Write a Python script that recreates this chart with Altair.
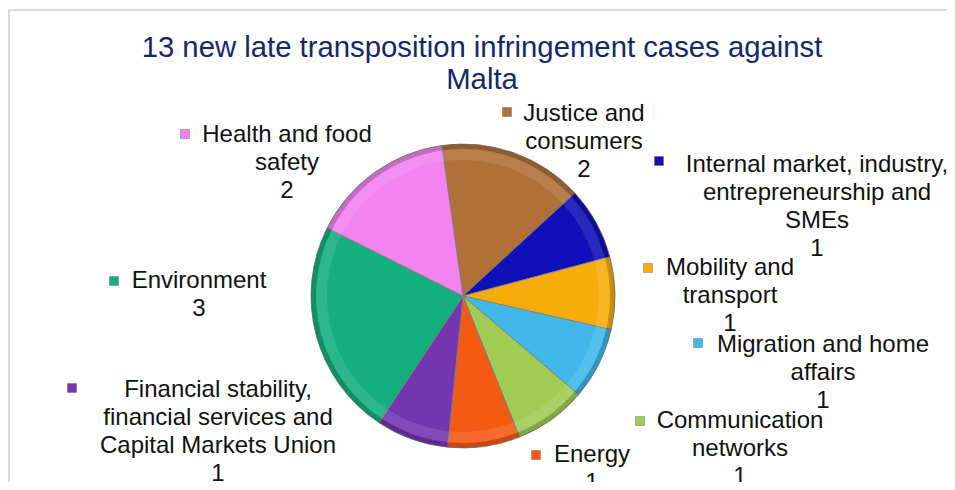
import math
import altair as alt
import pandas as pd

# ---- data ----
categories = [
    "Justice and consumers",
    "Internal market, industry, entrepreneurship and SMEs",
    "Mobility and transport",
    "Migration and home affairs",
    "Communication networks",
    "Energy",
    "Financial stability, financial services and Capital Markets Union",
    "Environment",
    "Health and food safety",
]
cases = [2, 1, 1, 1, 1, 1, 1, 3, 2]
colors = ["#B07038", "#1010B8", "#F7AC0C", "#40B8EA", "#A0CC55",
          "#F55A14", "#7435B0", "#14AF7D", "#F283F0"]
title_lines = ["13 new late transposition infringement cases against", "Malta"]

# ---- label layout (wrapping and placement, chart pixels) ----
wrap = {
    "Justice and consumers": ["Justice and", "consumers"],
    "Internal market, industry, entrepreneurship and SMEs": ["Internal market, industry,", "entrepreneurship and", "SMEs"],
    "Mobility and transport": ["Mobility and", "transport"],
    "Migration and home affairs": ["Migration and home", "affairs"],
    "Communication networks": ["Communication", "networks"],
    "Energy": ["Energy"],
    "Financial stability, financial services and Capital Markets Union": ["Financial stability,", "financial services and", "Capital Markets Union"],
    "Environment": ["Environment"],
    "Health and food safety": ["Health and food", "safety"],
}
# marker x, marker y, text centre x, first line y
place = {
    "Justice and consumers": (499, 104, 576, 106),
    "Internal market, industry, entrepreneurship and SMEs": (651, 153, 809, 157),
    "Mobility and transport": (640, 260, 722, 260),
    "Migration and home affairs": (690, 335, 815, 337),
    "Communication networks": (632, 413, 732, 413),
    "Energy": (528, 447, 584, 447),
    "Financial stability, financial services and Capital Markets Union": (64, 380, 210, 382),
    "Environment": (106, 273, 191, 273),
    "Health and food safety": (177, 126, 279, 127),
}

W, H = 939, 474
CX, CY, R = 455, 288, 152
LINE = 28
start = math.radians(-8)

pie_df = pd.DataFrame({"category": categories, "cases": cases, "idx": list(range(len(categories)))})

mk_rows, tx_rows = [], []
for c, n in zip(categories, cases):
    mx, my, tx, ty = place[c]
    mk_rows.append({"category": c, "px": mx, "py": my})
    for i, line in enumerate(wrap[c] + [str(n)]):
        tx_rows.append({"category": c, "px": tx, "py": ty + i * LINE, "line": line})
mk_df = pd.DataFrame(mk_rows)
tx_df = pd.DataFrame(tx_rows)

color_scale = alt.Scale(domain=categories, range=colors)
xs = alt.Scale(domain=[0, W], range=[0, W], nice=False, zero=False)
ys = alt.Scale(domain=[0, H], range=[0, H], nice=False, zero=False)
theta_scale = alt.Scale(range=[start, start + 2 * math.pi])

pie = alt.Chart(pie_df).mark_arc(outerRadius=R, stroke="#7a7a7a", strokeWidth=0.8).encode(
    theta=alt.Theta("cases:Q", stack=True, scale=theta_scale),
    color=alt.Color("category:N", scale=color_scale, legend=None),
    order=alt.Order("idx:Q"),
    x=alt.value(CX),
    y=alt.value(CY),
)

# bevel: light inner band and darker rim on each slice
rim = alt.Chart(pie_df).mark_arc(outerRadius=R, innerRadius=R - 5, color="#000000", opacity=0.18).encode(
    theta=alt.Theta("cases:Q", stack=True, scale=theta_scale),
    order=alt.Order("idx:Q"),
    x=alt.value(CX),
    y=alt.value(CY),
)
glow = alt.Chart(pie_df).mark_arc(outerRadius=R - 5, innerRadius=R - 16, color="#ffffff", opacity=0.10).encode(
    theta=alt.Theta("cases:Q", stack=True, scale=theta_scale),
    order=alt.Order("idx:Q"),
    x=alt.value(CX),
    y=alt.value(CY),
)

markers = alt.Chart(mk_df).mark_square(size=80, opacity=1, stroke="#555", strokeWidth=0.4).encode(
    x=alt.X("px:Q", scale=xs, axis=None),
    y=alt.Y("py:Q", scale=ys, axis=None),
    color=alt.Color("category:N", scale=color_scale, legend=None),
)

texts = alt.Chart(tx_df).mark_text(
    font="Liberation Sans", fontSize=24, color="#111111", align="center", baseline="middle"
).encode(
    x=alt.X("px:Q", scale=xs, axis=None),
    y=alt.Y("py:Q", scale=ys, axis=None),
    text="line:N",
)

title_df = pd.DataFrame({"line": title_lines, "k": [0, 1]})
title = alt.Chart(title_df).mark_text(
    font="Liberation Sans", fontSize=29.3, color="#13296B", align="center", baseline="middle"
).encode(
    x=alt.value(474),
    y=alt.Y("k:Q", scale=alt.Scale(domain=[0, 1], range=[40, 72]), axis=None),
    text="line:N",
)

frame_top = alt.Chart(pie_df).mark_rule(color="#d9d9d9", strokeWidth=2).encode(
    x=alt.value(0), x2=alt.value(W), y=alt.value(2))
frame_left = alt.Chart(pie_df).mark_rule(color="#d9d9d9", strokeWidth=2).encode(
    x=alt.value(1), y=alt.value(2), y2=alt.value(H))

chart = alt.layer(frame_top, frame_left, pie, rim, glow, markers, texts, title).resolve_scale(
    y="independent"
).properties(
    width=W, height=H, autosize=alt.AutoSizeParams(type="none"), padding=0
).configure_view(stroke=None)

chart.save("out.html", embed_options={"renderer": "svg", "actions": False})
